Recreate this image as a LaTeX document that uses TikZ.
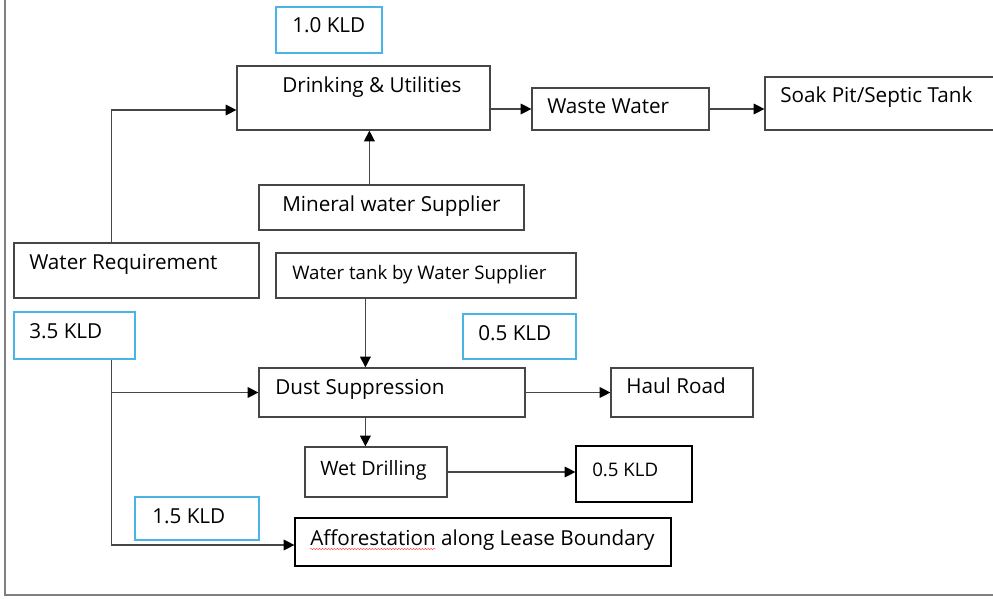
\documentclass[tikz,border=0pt]{standalone}
\usepackage{fontspec}
\setmainfont{Open Sans}
\usetikzlibrary{calc, fit, arrows.meta, decorations.pathmorphing}

\definecolor{boxline}{RGB}{70,70,70}
\definecolor{kldblue}{RGB}{75,180,230}

\begin{document}
\begin{tikzpicture}[x=0.75pt, y=-0.75pt,
    box/.style={draw=boxline, line width=0.9pt, inner sep=0pt},
    kld/.style={draw=kldblue, line width=0.9pt, inner sep=0pt},
    txt/.style={anchor=base west, inner sep=0pt, font=\fontsize{15.5}{18}\selectfont},
    small/.style={txt, font=\fontsize{14}{16}\selectfont},
    arr/.style={draw=boxline, line width=0.9pt,
        -{Triangle[length=8pt, width=8pt, color=black]}}]

    \useasboundingbox (0,0) rectangle (993,599);

    % outer frame (left and bottom edge only)
    \draw[gray, line width=0.9pt] (5,0) -- (5,595) -- (993,595);

    % upper branch: drinking water
    \node[kld, fit={(276,7) (382,53)}] (kld_drink) {};
    \node[txt] (kld_drink_txt) at (292,33) {1.0 KLD};

    \node[box, fit={(237,66) (490,130)}] (drink) {};
    \node[txt] (drink_txt) at (282,93) {Drinking \& Utilities};

    \node[box, fit={(532,88) (709,130)}] (waste) {};
    \node[txt] (waste_txt) at (547,114) {Waste Water};

    \node[box, fit={(765,77) (1000,130)}] (soak) {};
    \node[txt] (soak_txt) at (780,103) {Soak Pit/Septic Tank};

    \node[box, fit={(259,185) (524,230)}] (mineral) {};
    \node[txt] (mineral_txt) at (282,212) {Mineral water Supplier};

    % source boxes
    \node[box, fit={(14,243) (259,298)}] (req) {};
    \node[txt] (req_txt) at (29,269) {Water Requirement};

    \node[box, fit={(276,253) (576,298)}] (tank) {};
    \node[small] (tank_txt) at (292,280) {Water tank by Water Supplier};

    % lower branch: dust suppression and plantation
    \node[kld, fit={(14,312) (135,359)}] (kld_total) {};
    \node[txt] (kld_total_txt) at (29,338) {3.5 KLD};

    \node[kld, fit={(463,314) (576,359)}] (kld_dust) {};
    \node[txt] (kld_dust_txt) at (478,340) {0.5 KLD};

    \node[box, fit={(259,368) (525,417)}] (dust) {};
    \node[txt] (dust_txt) at (275,394) {Dust Suppression};

    \node[box, fit={(611,368) (753,417)}] (haul) {};
    \node[txt] (haul_txt) at (626,393) {Haul Road};

    \node[box, fit={(305,447) (447,497)}] (wet) {};
    \node[small, font=\fontsize{14.8}{17}\selectfont] (wet_txt) at (320,475) {Wet Drilling};

    \node[box, draw=black, fit={(576,446) (692,502)}] (kld_wet) {};
    \node[small] (kld_wet_txt) at (592,476) {0.5 KLD};

    \node[kld, fit={(135,497) (259,540)}] (kld_plant) {};
    \node[txt] (kld_plant_txt) at (152,523) {1.5 KLD};

    \node[box, draw=black, fit={(295,518) (671,566)}] (plant) {};
    \node[txt] (plant_txt) at (310,545) {Afforestation along Lease Boundary};
    \draw[red!80, line width=0.3pt, decorate,
        decoration={snake, amplitude=0.5pt, segment length=2.2pt}]
        ([shift={(0,4)}]plant_txt.base west) -- ++(126,0);

    % tap points on the box edges
    \coordinate (req_top) at ([shift={(98,0)}]req.north west);
    \coordinate (mineral_top) at ([shift={(111,0)}]mineral.north west);
    \coordinate (tank_bottom) at ([shift={(90,0)}]tank.south west);
    \coordinate (total_bottom) at ([shift={(98,0)}]kld_total.south west);

    % connectors
    \draw[arr] (req_top) |- ([shift={(0,12)}]drink.west);
    \draw[arr] (mineral_top) -- (mineral_top |- drink.south);
    \draw[arr] (drink.east |- waste.west) -- (waste.west);
    \draw[arr] (waste.east) -- (waste.east -| soak.west);

    \draw[arr] (tank_bottom) -- (tank_bottom |- dust.north);
    \draw[arr] (total_bottom |- dust.west) -- (dust.west);
    \draw[arr] (total_bottom) |- ([shift={(0,3)}]plant.west);
    \draw[arr] (dust.east) -- (haul.west);
    \draw[arr] (tank_bottom |- dust.south) -- (tank_bottom |- wet.north);
    \draw[arr] (wet.east) -- (wet.east -| kld_wet.west);
\end{tikzpicture}
\end{document}
